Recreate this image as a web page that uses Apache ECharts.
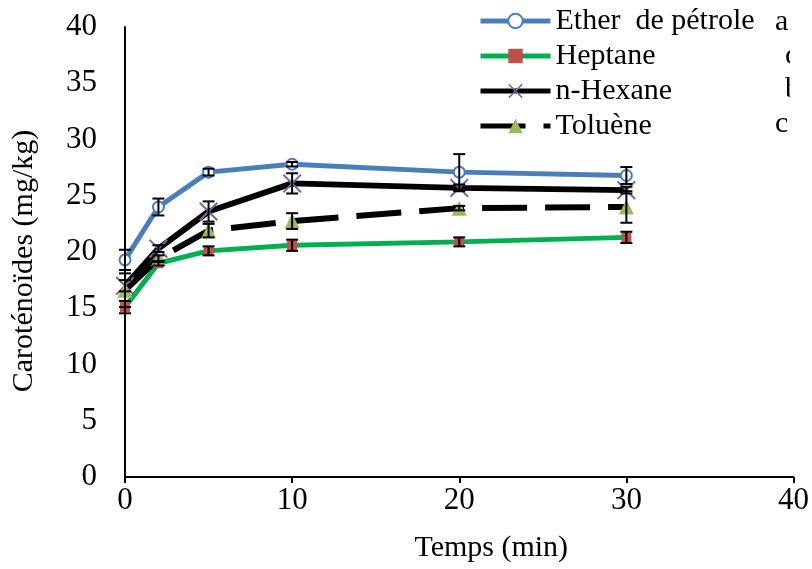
<!DOCTYPE html>
<html>
<head>
<meta charset="utf-8">
<script src="https://cdn.jsdelivr.net/npm/echarts@6/dist/echarts.min.js"></script>
<style>
html,body{margin:0;padding:0;background:#fff;}
#chart{width:812px;height:569px;}
</style>
</head>
<body>
<div id="chart"></div>
<script>
const times = [0, 2, 5, 10, 20, 30];
const seriesNames = ['Ether  de pétrole', 'Heptane', 'n-Hexane', 'Toluène'];
const ether = [19.3, 24.0, 27.1, 27.8, 27.1, 26.8];
const etherErr = [0.9, 0.75, 0.3, 0.2, 1.6, 0.75];
const heptane = [15.1, 19.0, 20.1, 20.6, 20.9, 21.3];
const heptaneErr = [0.55, 0.2, 0.4, 0.5, 0.4, 0.5];
const hexane = [17.0, 20.3, 23.6, 26.1, 25.7, 25.5];
const hexaneErr = [0.5, 0.3, 0.9, 0.9, 0.3, 0.3];
const toluene = [16.6, 19.4, 21.9, 22.75, 23.9, 24.0];
const tolueneErr = [1.5, 0.3, 0.6, 0.7, 0.2, 1.4];
const sideLetters = ['a', 'c', 'b', 'c'];
const xTicks = [0, 10, 20, 30, 40];
const yTicks = [0, 5, 10, 15, 20, 25, 30, 35, 40];

const FONT = 'Liberation Serif';
const pair = (vals) => times.map((t, i) => [t, vals[i]]);
const errData = (vals, errs) => times.map((t, i) => [t, vals[i] - errs[i], vals[i] + errs[i]]);

function renderErr(params, api) {
  const x = api.value(0), lo = api.value(1), hi = api.value(2);
  const a = api.coord([x, hi]), b = api.coord([x, lo]);
  const w = 6;
  const st = {stroke: '#000', lineWidth: 2};
  return {type: 'group', children: [
    {type: 'line', shape: {x1: a[0], y1: a[1], x2: b[0], y2: b[1]}, style: st},
    {type: 'line', shape: {x1: a[0] - w, y1: a[1], x2: a[0] + w, y2: a[1]}, style: st},
    {type: 'line', shape: {x1: b[0] - w, y1: b[1], x2: b[0] + w, y2: b[1]}, style: st}
  ]};
}
function errSeries(vals, errs) {
  return {type: 'custom', renderItem: renderErr, data: errData(vals, errs), z: 5, silent: true, clip: false,
    encode: {x: 0, y: [1, 2]}};
}
const xPath = 'path://M1.5,0L10,8.5L18.5,0L20,1.5L11.5,10L20,18.5L18.5,20L10,11.5L1.5,20L0,18.5L8.5,10L0,1.5Z';
const letterFont = '30px "Liberation Serif"';

const chart = echarts.init(document.getElementById('chart'));
chart.setOption({
  animation: false,
  backgroundColor: '#fff',
  grid: {left: 125, right: 17, top: 27, bottom: 92},
  legend: {
    orient: 'vertical', left: 478, top: 6, padding: 0, itemWidth: 70, itemHeight: 18, itemGap: 5,
    lineStyle: {width: 5},
    textStyle: {fontFamily: FONT, fontSize: 30, color: '#000', lineHeight: 30},
    data: seriesNames
  },
  xAxis: {
    type: 'value', min: 0, max: 40, interval: 10,
    name: 'Temps (min)', nameLocation: 'middle', nameGap: 56,
    nameTextStyle: {fontFamily: FONT, fontSize: 30, color: '#000', padding: [0, 0, 0, 64]},
    axisLine: {lineStyle: {color: '#000', width: 2}},
    axisTick: {show: true, length: 6, lineStyle: {color: '#000', width: 2}},
    axisLabel: {fontFamily: FONT, fontSize: 31, color: '#000', margin: 8,
      formatter: (v) => xTicks.includes(v) ? String(v) : ''},
    splitLine: {show: false}
  },
  yAxis: {
    type: 'value', min: 0, max: 40, interval: 5,
    name: 'Caroténoïdes (mg/kg)', nameLocation: 'middle', nameGap: 86, nameRotate: 90,
    nameTextStyle: {fontFamily: FONT, fontSize: 30, color: '#000', padding: [0, 18, 0, 0]},
    axisLine: {show: true, lineStyle: {color: '#000', width: 2}},
    axisTick: {show: false},
    axisLabel: {fontFamily: FONT, fontSize: 31, color: '#000', margin: 28,
      formatter: (v) => yTicks.includes(v) ? String(v) : ''},
    splitLine: {show: false}
  },
  series: [
    {name: seriesNames[0], type: 'line', data: pair(ether), clip: false, z: 3,
      symbol: 'emptyCircle', symbolSize: 11,
      lineStyle: {color: '#4a7ebb', width: 5},
      itemStyle: {color: '#4a7ebb', borderWidth: 2}},
    {name: seriesNames[1], type: 'line', data: pair(heptane), clip: false, z: 3,
      symbol: 'rect', symbolSize: 10,
      lineStyle: {color: '#00b050', width: 5},
      itemStyle: {color: '#c0504d'}},
    {name: seriesNames[2], type: 'line', data: pair(hexane), clip: false, z: 3,
      symbol: xPath, symbolSize: 19,
      lineStyle: {color: '#000', width: 6},
      itemStyle: {color: '#8064a2'}},
    {name: seriesNames[3], type: 'line', data: pair(toluene), clip: false, z: 3,
      symbol: 'triangle', symbolSize: 15,
      lineStyle: {color: '#000', width: 6, type: [45, 18]},
      itemStyle: {color: '#9bbb59'}},
    errSeries(ether, etherErr),
    errSeries(heptane, heptaneErr),
    errSeries(hexane, hexaneErr),
    errSeries(toluene, tolueneErr)
  ],
  graphic: [
    {type: 'text', x: 775, y: 22, style: {text: sideLetters[0], font: letterFont, fill: '#000', verticalAlign: 'middle'}},
    {type: 'text', x: 785, y: 56, style: {text: sideLetters[1], font: letterFont, fill: '#000', verticalAlign: 'middle'}},
    {type: 'text', x: 785, y: 89, style: {text: sideLetters[2], font: letterFont, fill: '#000', verticalAlign: 'middle'}},
    {type: 'text', x: 775, y: 124, style: {text: sideLetters[3], font: letterFont, fill: '#000', verticalAlign: 'middle'}},
    {type: 'rect', shape: {x: 790, y: 40, width: 22, height: 66}, style: {fill: '#fff'}, z: 200}
  ]
});
</script>
</body>
</html>
